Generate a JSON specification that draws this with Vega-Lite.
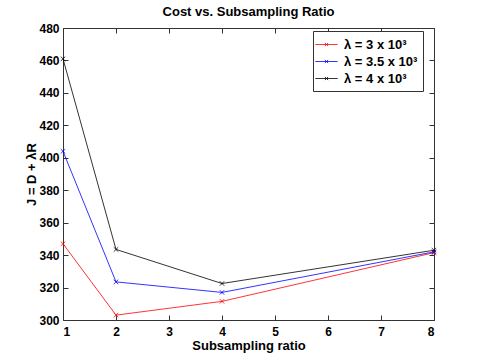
{
  "$schema": "https://vega.github.io/schema/vega-lite/v6.json",
  "width": 371,
  "height": 292,
  "autosize": {"type": "none"},
  "padding": {"left": 63, "top": 28, "right": 46, "bottom": 40},
  "background": "white",
  "title": {"text": "Cost vs. Subsampling Ratio", "font": "Liberation Sans", "fontSize": 13, "fontWeight": "bold", "color": "black", "offset": 3},
  "config": {
    "view": {"stroke": "#333", "strokeWidth": 1},
    "axis": {"labelFont": "Liberation Sans", "labelFontSize": 12, "labelFontWeight": "bold", "labelColor": "black", "titleFont": "Liberation Sans", "titleFontSize": 13, "titleFontWeight": "bold", "titleColor": "black", "grid": false, "domain": false, "tickColor": "#333", "tickSize": -5}
  },
  "data": {"values": [
    {"r": 1, "J": 347, "s": "λ = 3 x 10³"},
    {"r": 2, "J": 303, "s": "λ = 3 x 10³"},
    {"r": 4, "J": 311.5, "s": "λ = 3 x 10³"},
    {"r": 8, "J": 341.5, "s": "λ = 3 x 10³"},
    {"r": 1, "J": 404, "s": "λ = 3.5 x 10³"},
    {"r": 2, "J": 323.5, "s": "λ = 3.5 x 10³"},
    {"r": 4, "J": 317, "s": "λ = 3.5 x 10³"},
    {"r": 8, "J": 342, "s": "λ = 3.5 x 10³"},
    {"r": 1, "J": 461, "s": "λ = 4 x 10³"},
    {"r": 2, "J": 343.5, "s": "λ = 4 x 10³"},
    {"r": 4, "J": 322.5, "s": "λ = 4 x 10³"},
    {"r": 8, "J": 343, "s": "λ = 4 x 10³"}
  ]},
  "layer": [
    {
      "mark": {"type": "line", "strokeWidth": 0.8, "point": {"shape": "M-1,-1L1,1M-1,1L1,-1", "filled": false, "size": 20, "strokeWidth": 0.8}},
      "encoding": {
        "x": {"field": "r", "type": "quantitative", "scale": {"domain": [1, 8], "nice": false}, "axis": {"values": [1,2,3,4,5,6,7,8], "title": "Subsampling ratio", "titlePadding": 2, "labelPadding": 11}},
        "y": {"field": "J", "type": "quantitative", "scale": {"domain": [300, 480], "nice": false, "zero": false}, "axis": {"values": [300,320,340,360,380,400,420,440,460,480], "title": "J = D + λR", "titlePadding": 0, "labelPadding": 9}},
        "color": {"field": "s", "type": "nominal", "scale": {"domain": ["λ = 3 x 10³", "λ = 3.5 x 10³", "λ = 4 x 10³"], "range": ["#ff0000", "#0000ff", "#000000"]},
          "legend": {"title": null, "orient": "none", "legendX": 250, "legendY": 3, "fillColor": "white", "strokeColor": "#333", "padding": 5, "symbolType": "M-1.4,0L1.4,0M-0.2,-0.2L0.2,0.2M-0.2,0.2L0.2,-0.2", "symbolSize": 256, "symbolStrokeWidth": 0.8, "labelFont": "Liberation Sans", "labelFontSize": 13, "labelFontWeight": "bold", "labelColor": "black", "rowPadding": 1, "labelOffset": 9}}
      }
    },
    {
      "mark": {"type": "point", "opacity": 0},
      "encoding": {
        "x": {"field": "r", "type": "quantitative", "scale": {"domain": [1, 8], "nice": false}, "axis": {"orient": "top", "values": [1,2,3,4,5,6,7,8], "labels": false, "title": null}},
        "y": {"field": "J", "type": "quantitative", "scale": {"domain": [300, 480], "nice": false, "zero": false}, "axis": {"orient": "right", "values": [300,320,340,360,380,400,420,440,460,480], "labels": false, "title": null}}
      }
    }
  ],
  "resolve": {"axis": {"x": "independent", "y": "independent"}}
}
